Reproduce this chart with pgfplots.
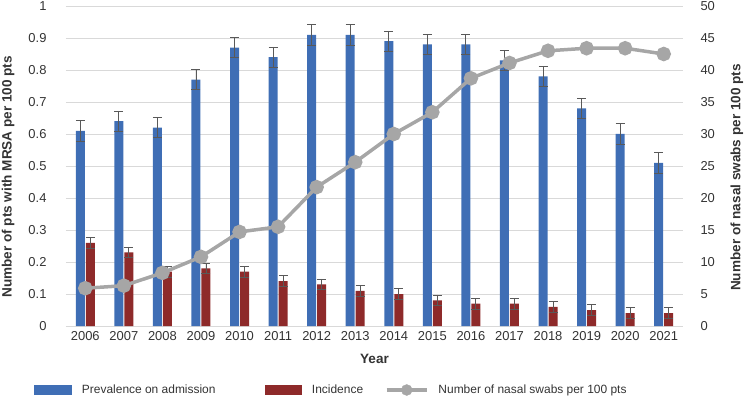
\documentclass[border=0pt]{standalone}
\usepackage{fontspec}
\setmainfont{Liberation Sans}
\usepackage{pgfplots}
\usepackage{pgfplotstable}
\pgfplotsset{compat=1.18}

\definecolor{barblue}{HTML}{3F6EB5}
\definecolor{barred}{HTML}{8E2A2A}
\definecolor{linegrey}{HTML}{A6A6A6}
\definecolor{gridgrey}{HTML}{D9D9D9}
\definecolor{errgrey}{HTML}{595959}
\definecolor{txt}{HTML}{333333}

\pgfplotstableread{
x year prev preverr inc incerr swab
0  2006 0.61 0.032 0.26 0.017 5.9
1  2007 0.64 0.032 0.23 0.017 6.3
2  2008 0.62 0.032 0.17 0.017 8.3
3  2009 0.77 0.032 0.18 0.017 10.8
4  2010 0.87 0.032 0.17 0.017 14.7
5  2011 0.84 0.032 0.14 0.017 15.5
6  2012 0.91 0.032 0.13 0.017 21.7
7  2013 0.91 0.032 0.11 0.017 25.6
8  2014 0.89 0.032 0.10 0.017 30.0
9  2015 0.88 0.032 0.08 0.017 33.4
10 2016 0.88 0.032 0.07 0.017 38.7
11 2017 0.83 0.032 0.07 0.017 41.1
12 2018 0.78 0.032 0.06 0.017 43.0
13 2019 0.68 0.032 0.05 0.017 43.4
14 2020 0.60 0.032 0.04 0.017 43.4
15 2021 0.51 0.032 0.04 0.017 42.5
}\data

\newcommand{\tickfont}{\fontsize{13}{15}\selectfont}
\newcommand{\labfont}{\fontsize{13.6}{16}\selectfont\bfseries}

\begin{document}
\begin{tikzpicture}
\begin{axis}[
  at={(0,0)}, anchor=south west,
  scale only axis, width=617bp, height=320bp,
  xmin=-0.5, xmax=15.5, ymin=0, ymax=1,
  axis x line*=bottom, axis y line*=left,
  x axis line style={gridgrey, line width=1bp, -},
  y axis line style={draw=none},
  major tick length=0pt,
  ytick={0,0.1,...,1.01},
  ymajorgrids, grid style={gridgrey, line width=0.9bp},
  xtick={0,...,15},
  xticklabels={2006,2007,2008,2009,2010,2011,2012,2013,2014,2015,2016,2017,2018,2019,2020,2021},
  /pgf/number format/assume math mode=true,
  yticklabel style={/pgf/number format/fixed, /pgf/number format/precision=1},
  tick label style={font=\tickfont, text=txt},
  xticklabel style={yshift=-2bp},
  yticklabel style={xshift=-16bp},
  xlabel={Year},
  xlabel style={font=\labfont, text=txt, at={(axis description cs:0.5,-0.103)}, anchor=center},
  ylabel={Number of pts with MRSA per 100 pts},
  ylabel style={font=\labfont, text=txt, at={(axis description cs:-0.094,0.466)}, anchor=center},
  ybar, bar width=9bp,
  legend columns=3,
  legend style={
    at={(axis description cs:-0.0519,-0.2)}, anchor=west,
    draw=none, fill=none, inner sep=0pt, outer sep=0pt,
    font=\fontsize{12}{14}\selectfont, text=txt,
    nodes={inner sep=0pt, anchor=west},
    /tikz/every odd column/.style={column sep=10bp},
    column sep=0pt,
  },
]
\addplot[fill=barblue, draw=none, bar shift=-5bp,
  legend image code/.code={\fill[barblue] (0bp,-5bp) rectangle (38bp,5bp);},
  error bars/.cd, y dir=both, y explicit,
  error bar style={errgrey, line width=0.9bp},
  error mark options={errgrey, line width=0.9bp, mark size=4.5bp, rotate=90}]
  table[x=x, y=prev, y error=preverr] {\data};
\addlegendentry{\makebox[183bp][l]{Prevalence on admission}}
\addplot[fill=barred, draw=none, bar shift=5bp,
  legend image code/.code={\fill[barred] (0bp,-5bp) rectangle (37bp,5bp);},
  error bars/.cd, y dir=both, y explicit,
  error bar style={errgrey, line width=0.9bp},
  error mark options={errgrey, line width=0.9bp, mark size=4.5bp, rotate=90}]
  table[x=x, y=inc, y error=incerr] {\data};
\addlegendentry{\makebox[73bp][l]{Incidence}}
\addlegendimage{legend image code/.code={
  \draw[linegrey, line width=3.5bp] (0bp,0bp) -- (40bp,0bp);
  \fill[linegrey] (20bp,0bp) circle (5.5bp);}}
\addlegendentry{Number of nasal swabs per 100 pts}
\end{axis}
\begin{axis}[
  at={(0,0)}, anchor=south west,
  scale only axis, width=617bp, height=320bp,
  xmin=-0.5, xmax=15.5, ymin=0, ymax=50,
  axis x line=none, axis y line*=right,
  y axis line style={draw=none},
  major tick length=0pt,
  ytick={0,5,...,50},
  /pgf/number format/assume math mode=true,
  tick label style={font=\tickfont, text=txt},
  yticklabel style={xshift=14bp},
  ylabel={Number of nasal swabs per 100 pts},
  ylabel style={font=\labfont, text=txt, at={(axis description cs:1.0875,0.464)}, anchor=center},
]
\addplot[linegrey, line width=3.5bp, mark=*, mark size=5.5bp,
  mark options={fill=linegrey, draw=none}]
  table[x=x, y=swab] {\data};
\end{axis}
\pgfresetboundingbox
\path[use as bounding box] (-66bp,-81bp) rectangle (680bp,326bp);
\end{tikzpicture}
\end{document}
